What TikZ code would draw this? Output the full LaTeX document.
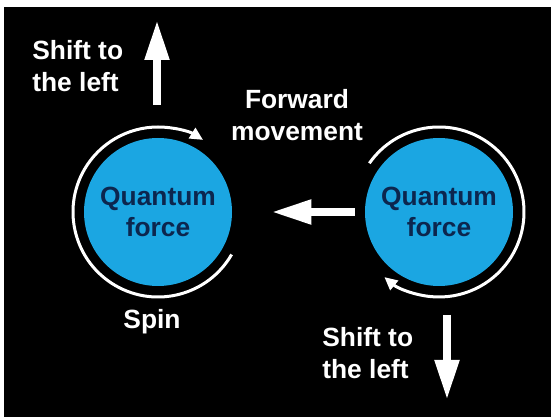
\documentclass[tikz,border=0pt]{standalone}
\usepackage{fontspec}
\setmainfont{Liberation Sans}
\usepackage{xcolor}
\usepackage{tikz}
\usetikzlibrary{arrows.meta, positioning, calc}

\definecolor{qblue}{RGB}{27,166,226}
\definecolor{qnavy}{RGB}{12,38,78}

\begin{document}
\begin{tikzpicture}[
    force/.style={circle, fill=qblue, minimum size=2.96cm, inner sep=0pt, align=center, text=qnavy, font=\fontsize{15}{18}\selectfont\bfseries},
    spin/.style={draw=white, line width=0.06cm, -{Triangle[length=0.26cm, width=0.24cm]}},
    fat/.style={draw=white, line width=0.16cm, -{Triangle[length=0.8cm, width=0.46cm]}},
    label/.style={text=white, inner sep=0pt, font=\fontsize{15}{18}\selectfont\bfseries}
]

% Frame
\fill[white] (0,0) rectangle (11.02,8.34);
\fill[black] (0.08,0) rectangle (11.02,8.20);
\useasboundingbox (0,0) rectangle (11.02,8.34);

% Spinning bodies
\node[force] (qleft) at (3.16,4.10) {Quantum\\force};
\node[force] (qright) at (8.78,4.10) {Quantum\\force};

% Spin arcs
\draw[spin] ([shift={(-30:1.7)}]qleft.center) arc[start angle=-30, end angle=-302, radius=1.7];
\draw[spin] ([shift={(145:1.7)}]qright.center) arc[start angle=145, end angle=-130, radius=1.7];

% Labels
\node[label, align=left, anchor=west] (shiftup) at (0.64,7.02) {Shift to\\the left};
\node[label, align=center] (fwd) at (5.94,6.04) {Forward\\movement};
\node[label] (spinlbl) at (3.04,1.90) {Spin};
\node[label, align=left, anchor=west] (shiftdown) at (6.44,1.28) {Shift to\\the left};

% Movement arrows
\coordinate (uptail) at (3.14,6.24);
\coordinate (uptip) at (3.14,7.94);
\coordinate (downtail) at (8.94,2.04);
\coordinate (downtip) at (8.94,0.34);
\draw[fat] (uptail) -- (uptip);
\draw[fat] (downtail) -- (downtip);
\draw[fat, shorten <=0.2cm, shorten >=0.78cm] (qright.west) -- (qleft.east);

\end{tikzpicture}
\end{document}
